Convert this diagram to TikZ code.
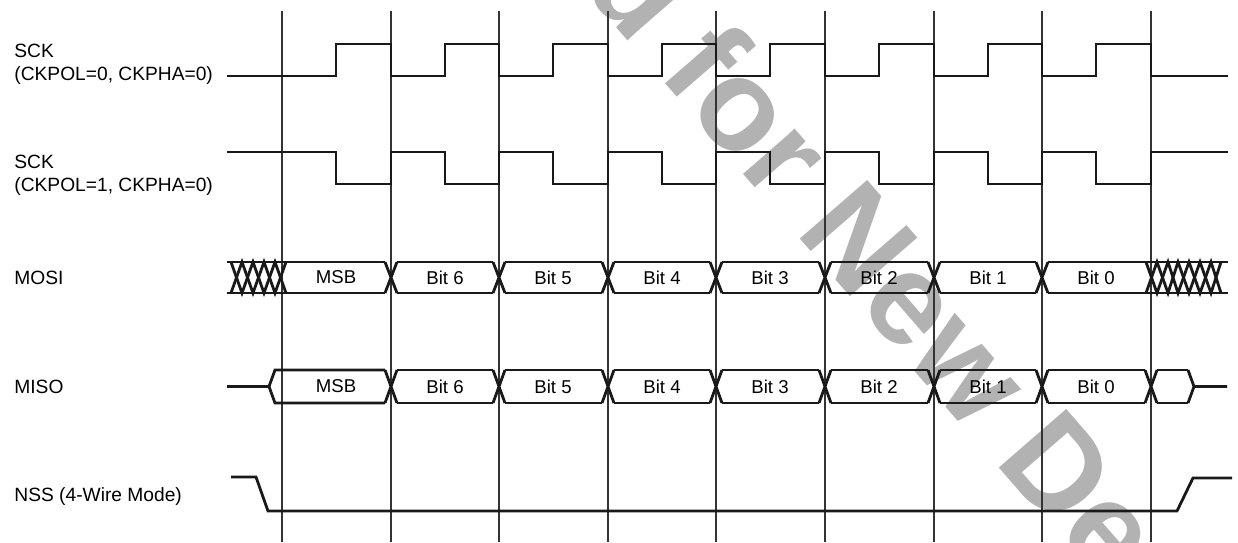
\documentclass[tikz,border=0pt]{standalone}
\usepackage{fontspec}
\setmainfont{Liberation Sans}
\usepackage{tikz}

\tikzset{
    signal/.style={line width=1.4pt, line join=miter, black!90},
    gridline/.style={line width=0.6pt, black!80},
    signame/.style={anchor=base west, inner sep=0pt, font=\fontsize{9.6}{11}\selectfont},
    bitname/.style={inner sep=0pt, font=\fontsize{9.3}{11}\selectfont},
}

\begin{document}
\begin{tikzpicture}[x=0.5pt,y=-0.5pt]
    \useasboundingbox (0,0) rectangle (1238,542);
    % watermark behind the diagram
    \begin{scope}
        \clip (0,0) rectangle (1238,542);
        \node[black!30, rotate=-49, anchor=base, inner sep=0pt, font=\fontsize{65}{70}\selectfont\bfseries] (wmark) at (591,-1.5) {Not Recommended for New Designs};
    \end{scope}
    % bit boundaries
    \draw[gridline] (282,11)--(282,542);
    \draw[gridline] (391,11)--(391,542);
    \draw[gridline] (499,11)--(499,542);
    \draw[gridline] (608,11)--(608,542);
    \draw[gridline] (716,11)--(716,542);
    \draw[gridline] (825,11)--(825,542);
    \draw[gridline] (934,11)--(934,542);
    \draw[gridline] (1042,11)--(1042,542);
    \draw[gridline] (1151,11)--(1151,542);
    % labels
    \node[signame] (sckA) at (14,57) {SCK};
    \node[signame] (sckAmode) at (14,80) {(CKPOL=0, CKPHA=0)};
    \node[signame] (sckB) at (14,168) {SCK};
    \node[signame] (sckBmode) at (14,191) {(CKPOL=1, CKPHA=0)};
    \node[signame] (mosi) at (14,284) {MOSI};
    \node[signame] (miso) at (14,393) {MISO};
    \node[signame] (nss) at (14,501) {NSS (4-Wire Mode)};
    % SCK, CKPOL=0
    \draw[signal] (227,76)--(336,76)--(336,44)--(391,44)--(391,76)--(445,76)--(445,44)--(499,44)--(499,76)--(553,76)--(553,44)--(608,44)--(608,76)--(662,76)--(662,44)--(716,44)--(716,76)--(770,76)--(770,44)--(825,44)--(825,76)--(879,76)--(879,44)--(934,44)--(934,76)--(988,76)--(988,44)--(1042,44)--(1042,76)--(1096,76)--(1096,44)--(1151,44)--(1151,76)--(1228,76);
    % SCK, CKPOL=1
    \draw[signal] (227,152)--(336,152)--(336,184)--(391,184)--(391,152)--(445,152)--(445,184)--(499,184)--(499,152)--(553,152)--(553,184)--(608,184)--(608,152)--(662,152)--(662,184)--(716,184)--(716,152)--(770,152)--(770,184)--(825,184)--(825,152)--(879,152)--(879,184)--(934,184)--(934,152)--(988,152)--(988,184)--(1042,184)--(1042,152)--(1096,152)--(1096,184)--(1151,184)--(1151,152)--(1228,152);
    % MOSI
    \draw[signal] (227,262)--(385,262) (397,262)--(493,262) (505,262)--(602,262) (614,262)--(710,262) (722,262)--(819,262) (831,262)--(928,262) (940,262)--(1036,262) (1048,262)--(1228,262);
    \draw[signal] (227,293)--(385,293) (397,293)--(493,293) (505,293)--(602,293) (614,293)--(710,293) (722,293)--(819,293) (831,293)--(928,293) (940,293)--(1036,293) (1048,293)--(1228,293);
    \draw[signal] (231,262)--(242,293)--(253,262)--(264,293)--(275,262)--(286,293);
    \draw[signal] (231,293)--(242,262)--(253,293)--(264,262)--(275,293)--(286,262);
    \draw[signal] (385,262)--(397,293) (385,293)--(397,262);
    \draw[signal] (493,262)--(505,293) (493,293)--(505,262);
    \draw[signal] (602,262)--(614,293) (602,293)--(614,262);
    \draw[signal] (710,262)--(722,293) (710,293)--(722,262);
    \draw[signal] (819,262)--(831,293) (819,293)--(831,262);
    \draw[signal] (928,262)--(940,293) (928,293)--(940,262);
    \draw[signal] (1036,262)--(1048,293) (1036,293)--(1048,262);
    \draw[signal] (1146,262)--(1157,293)--(1168,262)--(1178,293)--(1189,262)--(1200,293)--(1211,262)--(1221,293);
    \draw[signal] (1146,293)--(1157,262)--(1168,293)--(1178,262)--(1189,293)--(1200,262)--(1211,293)--(1221,262);
    \node[bitname] (mosi7) at (336,277.5) {MSB};
    \node[bitname] (mosi6) at (445,277.5) {Bit 6};
    \node[bitname] (mosi5) at (553,277.5) {Bit 5};
    \node[bitname] (mosi4) at (662,277.5) {Bit 4};
    \node[bitname] (mosi3) at (770,277.5) {Bit 3};
    \node[bitname] (mosi2) at (879,277.5) {Bit 2};
    \node[bitname] (mosi1) at (988,277.5) {Bit 1};
    \node[bitname] (mosi0) at (1096,277.5) {Bit 0};
    % MISO
    \draw[signal] (227,386.5)--(269,386.5)--(275,370)--(385,370);
    \draw[signal] (269,386.5)--(275,403)--(385,403);
    \draw[signal] (397,370)--(493,370) (505,370)--(602,370) (614,370)--(710,370) (722,370)--(819,370) (831,370)--(928,370) (940,370)--(1036,370) (1048,370)--(1145,370) (1157,370)--(1188,370);
    \draw[signal] (397,403)--(493,403) (505,403)--(602,403) (614,403)--(710,403) (722,403)--(819,403) (831,403)--(928,403) (940,403)--(1036,403) (1048,403)--(1145,403) (1157,403)--(1188,403);
    \draw[signal] (385,370)--(397,403) (385,403)--(397,370);
    \draw[signal] (493,370)--(505,403) (493,403)--(505,370);
    \draw[signal] (602,370)--(614,403) (602,403)--(614,370);
    \draw[signal] (710,370)--(722,403) (710,403)--(722,370);
    \draw[signal] (819,370)--(831,403) (819,403)--(831,370);
    \draw[signal] (928,370)--(940,403) (928,403)--(940,370);
    \draw[signal] (1036,370)--(1048,403) (1036,403)--(1048,370);
    \draw[signal] (1145,370)--(1157,403) (1145,403)--(1157,370);
    \draw[signal] (1188,370)--(1194,386.5)--(1188,403) (1194,386.5)--(1227,386.5);
    \node[bitname] (miso7) at (336,386.5) {MSB};
    \node[bitname] (miso6) at (445,386.5) {Bit 6};
    \node[bitname] (miso5) at (553,386.5) {Bit 5};
    \node[bitname] (miso4) at (662,386.5) {Bit 4};
    \node[bitname] (miso3) at (770,386.5) {Bit 3};
    \node[bitname] (miso2) at (879,386.5) {Bit 2};
    \node[bitname] (miso1) at (988,386.5) {Bit 1};
    \node[bitname] (miso0) at (1096,386.5) {Bit 0};
    % NSS
    \draw[signal] (231,477)--(256,477)--(268,511)--(1177,511)--(1193,478)--(1232,478);
\end{tikzpicture}
\end{document}
